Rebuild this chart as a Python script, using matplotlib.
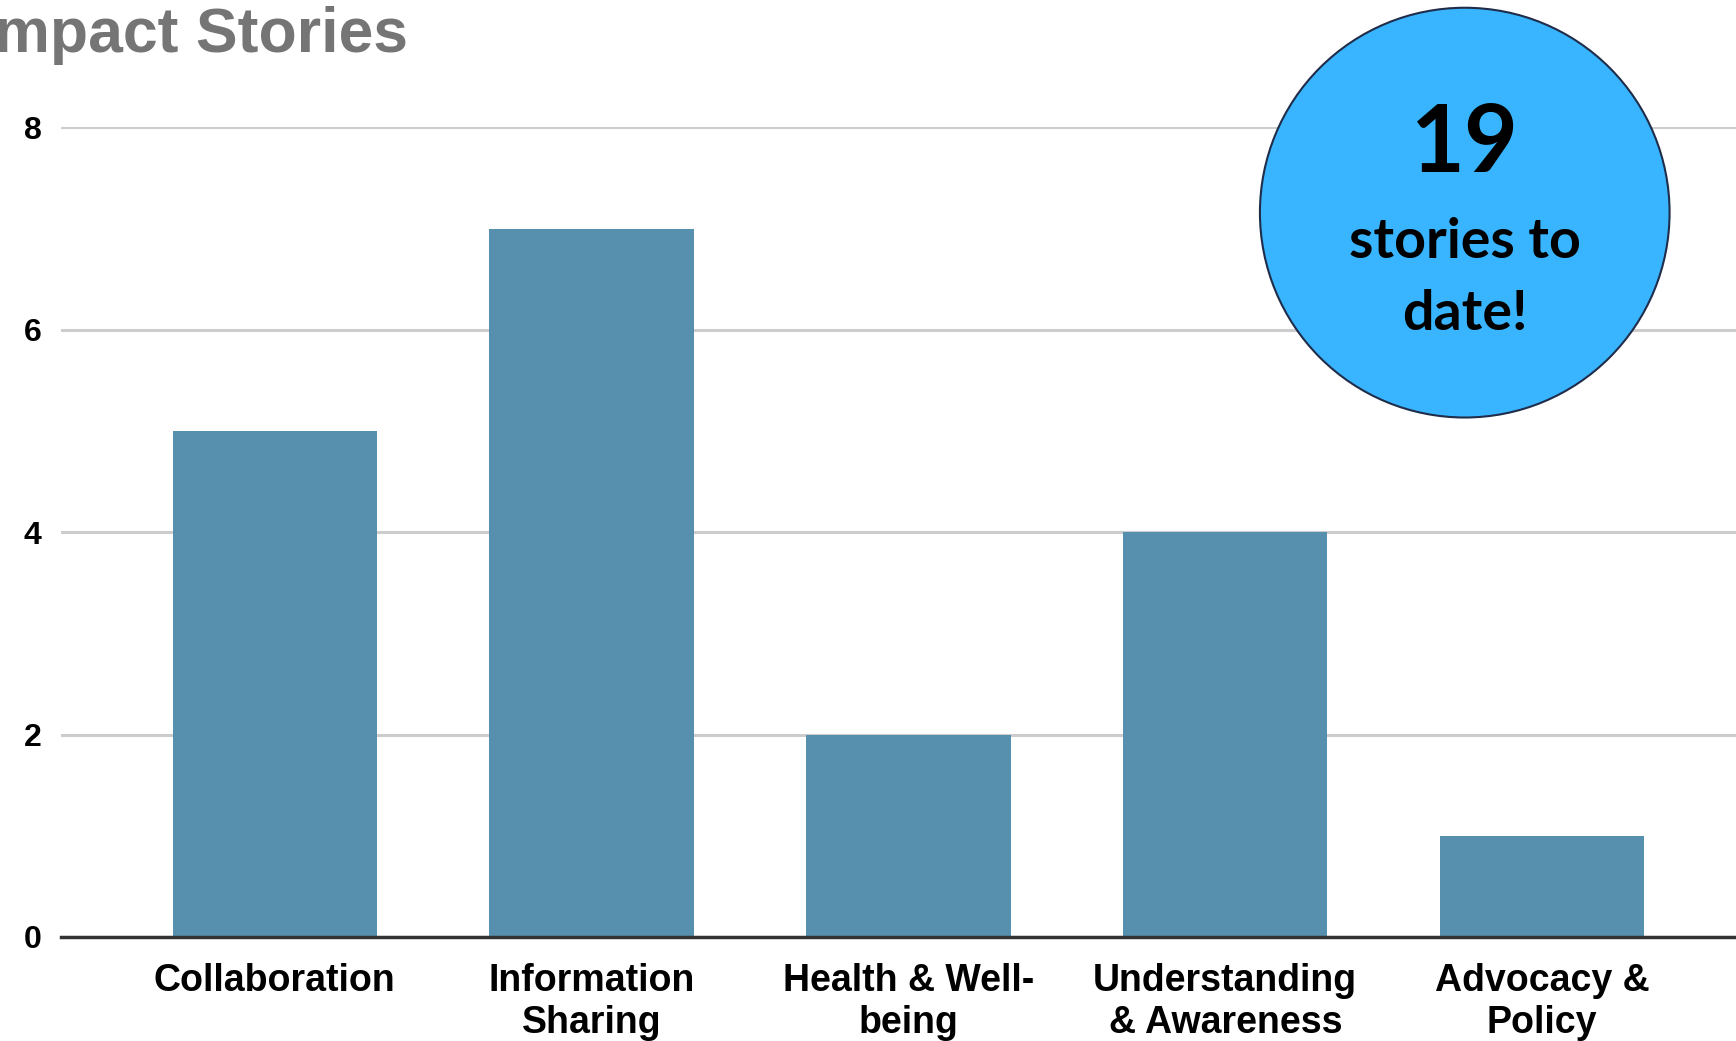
import matplotlib.pyplot as plt
from matplotlib.patches import Ellipse

# Data
categories = ['Collaboration', 'Information\nSharing', 'Health & Well-\nbeing',
              'Understanding\n& Awareness', 'Advocacy &\nPolicy']
counts = [5, 7, 2, 4, 1]
total_stories = 19
y_ticks = [0, 2, 4, 6, 8]

bar_color = '#5790AE'
circle_color = '#38B5FE'

fig = plt.figure(figsize=(17.36, 10.41), dpi=100)
ax = fig.add_axes([55 / 1568, 0.1, 1 - 55 / 1568, 0.7777])

x = list(range(len(categories)))
ax.bar(x, counts, width=0.645, color=bar_color, zorder=3)

ax.set_xlim(-0.675, 4.612)
ax.set_ylim(0, 8)
ax.set_yticks(y_ticks)
ax.set_yticklabels([str(t) for t in y_ticks], fontsize=23, fontweight='bold',
                   family='Liberation Sans')
ax.set_xticks(x)
ax.set_xticklabels(categories, fontsize=27, fontweight='bold',
                   family='Liberation Sans', linespacing=1.22, va='top')
ax.tick_params(axis='y', length=0, pad=14)
ax.tick_params(axis='x', length=0, pad=19)

ax.grid(axis='y', color='#CCCCCC', linewidth=2.2, zorder=0)
for s in ['top', 'right', 'left']:
    ax.spines[s].set_visible(False)
ax.spines['bottom'].set_color('#333333')
ax.spines['bottom'].set_linewidth(2.5)
ax.spines['bottom'].set_zorder(4)

# Title, cut off at the left edge as in the source
fig.text(-0.0135, 0.95, 'Impact Stories', fontsize=45, fontweight='bold',
         color='#757575', family='Liberation Sans', va='baseline', ha='left')

# Circle callout
cx, cy = 1323 / 1568, (940 - 192) / 940
circ = Ellipse((cx, cy), 370 / 1568, 370 / 940, transform=fig.transFigure,
               facecolor=circle_color, edgecolor='#1F2D4A', linewidth=1.5,
               zorder=10)
fig.add_artist(circ)
fig.text(cx, (940 - 131) / 940, str(total_stories), fontsize=67, fontweight='bold',
         family='Lato', ha='center', va='center', zorder=11)
fig.text(cx, (940 - 251) / 940, 'stories to\ndate!', fontsize=40, fontweight='bold',
         family='Lato', ha='center', va='center', linespacing=1.55, zorder=11)

fig.savefig('out.png', dpi=100)
